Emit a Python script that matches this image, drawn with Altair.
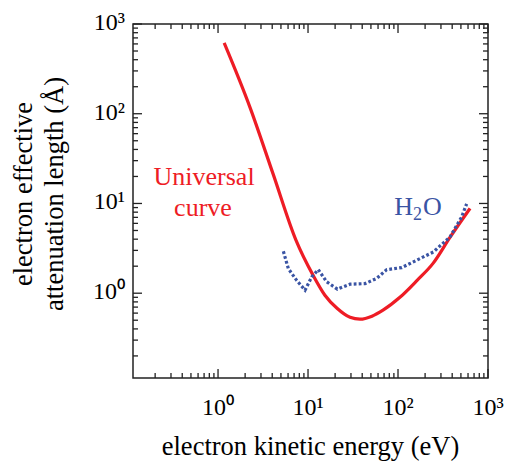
import altair as alt
import pandas as pd

# ---- data ----
red_energy = [1.17, 2.27, 4.08, 7.36, 11.4, 15.4, 21.0, 29.3, 37.8, 51.4, 68.1, 105, 163, 245, 378, 631]
red_length = [615, 117, 21.5, 3.88, 1.58, 0.95, 0.68, 0.54, 0.514, 0.555, 0.647, 0.90, 1.39, 2.15, 4.19, 8.8]

h2o_energy = [5.32, 6.04, 7.48, 9.27, 11.0, 13.0, 16.1, 21.2, 29.3, 43.0, 57.9, 74.8, 110, 161, 247, 378, 509, 579]
h2o_length = [2.93, 1.88, 1.39, 1.08, 1.52, 1.83, 1.34, 1.11, 1.26, 1.28, 1.46, 1.83, 1.93, 2.33, 2.88, 4.23, 7.05, 9.91]

curve_label_text = ["Universal", "curve"]
curve_label_energy = [0.70, 0.68]
curve_label_length = [15.9, 7.17]

h2o_label_energy = [163]
h2o_label_length = [7.36]

major_ticks = [1, 10, 100, 1000]
major_tick_labels = ["10⁰", "10¹", "10²", "10³"]
minor_ticks = [0.2, 0.3, 0.4, 0.5, 0.6, 0.7, 0.8, 0.9,
               2, 3, 4, 5, 6, 7, 8, 9,
               20, 30, 40, 50, 60, 70, 80, 90,
               200, 300, 400, 500, 600, 700, 800, 900]
axis_domain = [0.1135, 1000]

x_title = ["electron kinetic energy (eV)"]
y_title = ["electron effective\nattenuation length (Å)"]

# ---- styling ----
W, H = 355, 354
FONT = "Liberation Serif"
RED = "#ee1c25"
BLUE = "#3a54a4"
INK = "#222222"
PX_PER_DECADE = 90.0
MAJOR_LEN, MINOR_LEN = 9, 5

xs = alt.Scale(type="log", domain=axis_domain, nice=False)
ys = alt.Scale(type="log", domain=axis_domain, nice=False)


def X(field="E"):
    return alt.X(f"{field}:Q", scale=xs, axis=None)


def Y(field="L"):
    return alt.Y(f"{field}:Q", scale=ys, axis=None)


red_df = pd.DataFrame({"E": red_energy, "L": red_length})
h2o_df = pd.DataFrame({"E": h2o_energy, "L": h2o_length})
curve_lbl = pd.DataFrame({"E": curve_label_energy, "L": curve_label_length, "t": curve_label_text})
h2o_lbl = pd.DataFrame({"E": h2o_label_energy, "L": h2o_label_length})

red_line = alt.Chart(red_df).mark_line(color=RED, strokeWidth=3.2, interpolate="monotone").encode(
    x=X(), y=Y(), order=alt.Order("E:Q"))

h2o_line = alt.Chart(h2o_df).mark_line(color=BLUE, strokeWidth=3.2, strokeDash=[2.8, 2.2],
                                       strokeCap="butt").encode(
    x=X(), y=Y(), order=alt.Order("E:Q"))

curve_text = alt.Chart(curve_lbl).mark_text(font=FONT, fontSize=26, color=RED, align="center",
                                             baseline="alphabetic").encode(
    x=X(), y=Y(), text="t:N")


def h2o_part(txt, align, dx, dy, size):
    return alt.Chart(h2o_lbl).mark_text(font=FONT, fontSize=size, color=BLUE, align=align,
                                        baseline="alphabetic", dx=dx, dy=dy, text=txt).encode(
        x=X(), y=Y())


h2o_parts = [
    h2o_part("H", "right", -4, 0, 26),
    h2o_part("2", "left", -4, 5, 18),
    h2o_part("O", "left", 6, 0, 26),
]


# inward ticks on all four frame sides, drawn in data space through the shared log scales
def tick_tables(vals, length):
    f = 10 ** (length / PX_PER_DECADE)   # tick length expressed as a factor on the log axis
    lo, hi = axis_domain
    xt = pd.DataFrame({
        "E": vals + vals,
        "a": [lo] * len(vals) + [hi] * len(vals),
        "b": [lo * f] * len(vals) + [hi / f] * len(vals),
    })
    yt = pd.DataFrame({
        "L": vals + vals,
        "a": [lo] * len(vals) + [hi] * len(vals),
        "b": [lo * f] * len(vals) + [hi / f] * len(vals),
    })
    return xt, yt


tick_layers = []
for vals, ln in ((major_ticks, MAJOR_LEN), (minor_ticks, MINOR_LEN)):
    xt, yt = tick_tables(vals, ln)
    tick_layers.append(alt.Chart(xt).mark_rule(color=INK, strokeWidth=1.3).encode(
        x=X(), y=Y("a"), y2=alt.Y2("b:Q")))
    tick_layers.append(alt.Chart(yt).mark_rule(color=INK, strokeWidth=1.3).encode(
        y=Y(), x=X("a"), x2=alt.X2("b:Q")))

# tick labels (10^n) placed through the same log scales
x_lab_df = pd.DataFrame({"E": major_ticks, "t": major_tick_labels})
y_lab_df = pd.DataFrame({"L": major_ticks, "t": major_tick_labels})

x_labels = alt.Chart(x_lab_df).mark_text(font=FONT, fontSize=24, color="black", align="center",
                                          baseline="alphabetic").encode(
    x=X(), y=alt.value(H + 37), text="t:N")

y_labels = alt.Chart(y_lab_df).mark_text(font=FONT, fontSize=24, color="black", align="right",
                                          baseline="alphabetic", dy=6).encode(
    y=Y(), x=alt.value(-8), text="t:N")

# axis titles
x_title_mark = alt.Chart(pd.DataFrame({"t": x_title})).mark_text(
    font=FONT, fontSize=26.5, color="black", align="center", baseline="alphabetic").encode(
    x=alt.value(W / 2), y=alt.value(H + 77), text="t:N")

y_title_mark = alt.Chart(pd.DataFrame({"t": y_title})).mark_text(
    font=FONT, fontSize=26.5, color="black", align="center", baseline="alphabetic",
    angle=270, lineBreak="\n", lineHeight=31).encode(
    x=alt.value(-101), y=alt.value(170), text="t:N")

chart = alt.layer(red_line, h2o_line, curve_text, *h2o_parts, *tick_layers,
                  x_labels, y_labels, x_title_mark, y_title_mark).properties(
    width=W, height=H,
    autosize=alt.AutoSizeParams(type="none"),
    padding={"left": 133, "top": 24, "right": 17, "bottom": 84},
).configure_view(stroke=INK, strokeWidth=1.5)

chart.save("out.html", embed_options={"renderer": "svg", "actions": False})
